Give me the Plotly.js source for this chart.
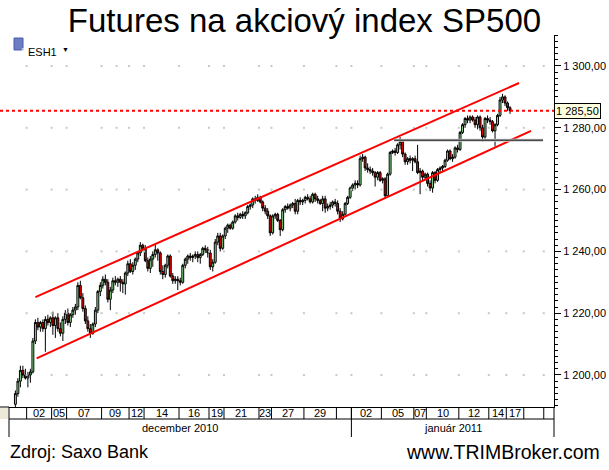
<!DOCTYPE html>
<html><head><meta charset="utf-8">
<script src="https://cdn.plot.ly/plotly-3.0.1.min.js"></script>
<style>html,body{margin:0;padding:0;background:#fff}#chart{width:609px;height:470px}</style>
</head><body><div id="chart"></div>
<script>
// ---- data: 4-hour bars of ESH1, 1 Dec 2010 - 17 Jan 2011 ----
const open = [1190.5,1194,1198,1201.5,1200,1199,1200,1201,1211,1217,1215.5,1217,1215,1218,1217,1218.5,1216,1218.5,1215,1213.5,1218,1220,1217,1219.5,1221,1222,1229,1225,1221.5,1217.5,1215,1213.5,1216.5,1221,1227,1229,1231,1230,1224.5,1227.5,1230.5,1230,1231,1230,1229.5,1233,1236,1233.5,1235.5,1237.5,1239.5,1242,1241,1237,1234.5,1237.5,1239,1240.5,1239.5,1233.5,1232.5,1235.5,1238.5,1232,1230.5,1231,1230.5,1230,1235.5,1237.5,1238.5,1238,1238.5,1239,1238,1239,1241,1240.5,1239.5,1235,1236.5,1243,1245,1241,1245,1247.5,1248.5,1247.5,1249.5,1251.5,1251,1252,1251.5,1252.5,1254.5,1255,1257,1256.5,1257.5,1256,1254,1253,1251.5,1246,1251.5,1252,1250,1247,1253.5,1254.5,1254,1255,1255.5,1253,1256.5,1256,1256.5,1257.5,1257,1256,1258.5,1257,1256.5,1255.5,1257,1254,1254.5,1255,1256,1255.5,1253,1250.5,1252,1255.5,1257.5,1260.5,1261.5,1262,1261.5,1270,1270.5,1267,1266.5,1266,1265.5,1264,1265.5,1263,1263.5,1258,1265,1272,1272.5,1272,1274.5,1275.5,1271.5,1269,1270,1269.5,1270,1269,1265.5,1266,1264,1265,1262,1260.5,1265.5,1263,1266.5,1267,1267.5,1269.5,1272.5,1270,1270.5,1273.5,1273,1278.5,1281,1283,1282.5,1283.5,1282.5,1281,1283.5,1280,1277,1283,1282.5,1282,1279,1281,1284,1289,1290,1288,1286.5];
const high = [1195,1199,1203,1203,1202,1201,1202,1212,1218,1218.5,1217.5,1218,1219,1219.5,1219,1220.5,1219,1220,1217,1219,1221,1221.5,1220,1222,1223,1230,1230.5,1226.5,1222.5,1219,1216.5,1217,1222,1227.5,1230,1232,1232.5,1231,1228.5,1231.5,1232,1231.5,1232,1231,1233.5,1237,1237.5,1236.5,1238,1240,1243,1242.5,1242,1238,1238.5,1240,1242.5,1241,1240,1235.5,1236,1239,1239,1233,1232,1232,1231.5,1236,1238,1239,1239.5,1239,1240,1240,1239.5,1241.5,1242,1241.5,1240.5,1237.5,1244,1246,1246,1245.5,1248,1249,1249,1250,1252,1252.5,1252.5,1253,1253,1255,1255.5,1257.5,1258,1258.5,1258,1256.5,1255,1254,1252,1252,1252.5,1252.5,1250.5,1254,1255,1255.5,1255.5,1256,1257,1257,1257.5,1257,1258,1258.5,1258,1259,1259,1258,1257,1258,1258,1255.5,1256,1256.5,1257,1256.5,1254,1253,1256,1258,1261,1262,1263,1263,1271,1271.5,1271,1268.5,1267.5,1267,1266,1266,1266,1264,1264,1265.5,1272.5,1273,1273.5,1275,1277,1276,1272,1270.5,1271,1270.5,1271,1274.5,1267,1266.5,1265.5,1265.5,1263,1266,1266,1267,1267.5,1268,1270,1273,1273,1271.5,1274,1274.5,1279,1281.5,1283.5,1284,1284,1284,1283.5,1284,1284,1281,1283.5,1284,1283.5,1282.5,1281.5,1284.5,1290,1291,1290.5,1288.5,1287];
const low = [1189,1193,1196,1199,1198.5,1196,1197.5,1200.5,1210,1214.5,1214,1214,1207.5,1216,1215.5,1213,1212,1214,1212.5,1211,1216.5,1216,1215.5,1218.5,1219.5,1221,1224.5,1220.5,1216.5,1214,1212,1213,1215.5,1220,1225.5,1228,1229,1223.5,1221,1226.5,1229,1228.5,1227,1226.5,1226,1232,1233,1232.5,1234,1236.5,1238.5,1240,1236.5,1233.5,1233,1235,1238,1237,1232.5,1231,1231.5,1234.5,1231.5,1229.5,1229.5,1227.5,1229,1229.5,1234.5,1236,1237,1236.5,1237.5,1236.5,1236,1238.5,1239.5,1238,1234,1233.5,1236,1242,1240,1240.5,1244,1246,1247,1247,1249,1250,1250.5,1250.5,1250.5,1252,1253.5,1254,1255.5,1256,1255.5,1253,1252,1250.5,1245,1245.5,1250.5,1249.5,1245,1246.5,1252.5,1253.5,1253,1254,1252,1252,1255,1255,1255.5,1256.5,1255.5,1255.5,1256,1255.5,1255,1253,1252.5,1253,1253.5,1254,1254.5,1252,1249.5,1250,1251.5,1255,1257,1259.5,1260,1260.5,1261,1269,1266,1265.5,1265,1264.5,1261,1263,1262.5,1262,1257,1257.5,1264.5,1271.5,1271,1271.5,1273,1270.5,1268,1268,1268.5,1266,1268.5,1265,1258.5,1263,1263,1261,1259.5,1259,1262,1262.5,1265.5,1266,1267,1269,1269.5,1269,1270,1272,1272.5,1278,1280,1281.5,1281.5,1282,1280,1279.5,1279,1275.5,1276.5,1281.5,1281,1278.5,1274,1280.5,1283.5,1288,1287,1285.5,1284.5];
const close = [1194,1198,1201.5,1200,1199,1200,1201,1211,1217,1215.5,1217,1215,1218,1217,1218.5,1216,1218.5,1215,1213.5,1218,1220,1217,1219.5,1221,1222,1229,1225,1221.5,1217.5,1215,1213.5,1216.5,1221,1227,1229,1231,1230,1224.5,1227.5,1230.5,1230,1231,1230,1229.5,1233,1236,1233.5,1235.5,1237.5,1239.5,1242,1241,1237,1234.5,1237.5,1239,1240.5,1239.5,1233.5,1232.5,1235.5,1238.5,1232,1230.5,1231,1230.5,1230,1235.5,1237.5,1238.5,1238,1238.5,1239,1238,1239,1241,1240.5,1239.5,1235,1236.5,1243,1245,1241,1245,1247.5,1248.5,1247.5,1249.5,1251.5,1251,1252,1251.5,1252.5,1254.5,1255,1257,1256.5,1257.5,1256,1254,1253,1251.5,1246,1251.5,1252,1250,1247,1253.5,1254.5,1254,1255,1255.5,1253,1256.5,1256,1256.5,1257.5,1257,1256,1258.5,1257,1256.5,1255.5,1257,1254,1254.5,1255,1256,1255.5,1253,1250.5,1252,1255.5,1257.5,1260.5,1261.5,1262,1261.5,1270,1270.5,1267,1266.5,1266,1265.5,1264,1265.5,1263,1263.5,1258,1265,1272,1272.5,1272,1274.5,1275.5,1271.5,1269,1270,1269.5,1270,1269,1265.5,1266,1264,1265,1262,1260.5,1265.5,1263,1266.5,1267,1267.5,1269.5,1272.5,1270,1270.5,1273.5,1273,1278.5,1281,1283,1282.5,1283.5,1282.5,1281,1283.5,1280,1277,1283,1282.5,1282,1279,1281,1284,1289,1290,1288,1286.5,1285.5];

// session (day) label cells on the time axis, in bar-index units
const dayLabels = ['', '02','05','07','09','12','14','16','19','21','23','27','29','', '02','05','07','10','12','14','17','',''];
const dayBounds = [-2.56, 4.5, 14.5, 20.5, 34.5, 45.5, 51.5, 65.5, 77.5, 83.5, 97.5, 102.5, 115.5, 128.5, 134.5, 146.5, 159.5, 164.5, 177.5, 189.5, 196.5, 203.5, 211.5, 215.6];
const monthLabels = ['december 2010', 'január 2011'];
const monthBounds = [-2.56, 134.5, 215.6];
const gridX = [4.5, 14.5, 20.5, 34.5, 40.5, 45.5, 51.5, 65.5, 77.5, 83.5, 97.5, 102.5, 115.5, 128.5, 134.5, 146.5, 159.5, 164.5, 177.5, 189.5, 196.5, 203.5, 211.5];
const yTicks = [1200, 1220, 1240, 1260, 1280, 1300];

// drawn trend lines (bar index, price)
const upperChannel = {x: [8, 201.6], y: [1225.2, 1294.5]};
const lowerChannel = {x: [8.5, 206.4], y: [1205.4, 1279.0]};
const resistance = {x: [151.6, 211.2], y: [1276, 1276]};

const lastPrice = close[close.length - 1];
const idx = close.map((_, i) => i);

function fmt(v) {
  const [i, d] = v.toFixed(2).split('.');
  return i.replace(/\B(?=(\d{3})+(?!\d))/g, ' ') + ',' + d;
}

// ---- layout geometry ----
const W = 609, H = 470;
const M = {l: 9, r: 55, t: 35, b: 63};
const PW = W - M.l - M.r, PH = H - M.t - M.b;
const row1 = -12 / PH, row2 = -30 / PH;
const FONT = 'Arial, "Liberation Sans", sans-serif';

const gx = [], gy = [];
gridX.forEach(x => yTicks.forEach(y => { gx.push(x); gy.push(y); }));

const traces = [
  {type: 'scatter', mode: 'markers', x: gx, y: gy, hoverinfo: 'skip',
   marker: {symbol: 'square', size: 2, color: '#c8c8c8'}},
  {type: 'candlestick', x: idx, open: open, high: high, low: low, close: close,
   increasing: {line: {color: '#000', width: 1}, fillcolor: '#90ee90'},
   decreasing: {line: {color: '#000', width: 1}, fillcolor: '#ff0000'},
   whiskerwidth: 0, hoverinfo: 'skip'},
  {type: 'scatter', mode: 'lines', x: upperChannel.x, y: upperChannel.y, line: {color: '#ff0000', width: 2}},
  {type: 'scatter', mode: 'lines', x: lowerChannel.x, y: lowerChannel.y, line: {color: '#ff0000', width: 2}},
  {type: 'scatter', mode: 'lines', x: resistance.x, y: resistance.y, line: {color: '#cfcfcf', width: 3}},
  {type: 'scatter', mode: 'lines', x: resistance.x, y: resistance.y, line: {color: '#000', width: 1}}
];

const centers = [];
for (let i = 0; i < dayLabels.length; i++) centers.push((dayBounds[i] + dayBounds[i + 1]) / 2);

const shapes = [];
shapes.push({type: 'line', xref: 'paper', yref: 'y', x0: -M.l / PW, x1: 1, y0: lastPrice, y1: lastPrice,
  line: {color: '#ff0000', width: 2, dash: 'dot'}});
dayBounds.slice(1, -1).forEach(b => shapes.push({type: 'line', xref: 'x', yref: 'paper', x0: b, x1: b, y0: 0, y1: row1,
  line: {color: '#000', width: 1}}));
monthBounds.slice(1, -1).forEach(b => shapes.push({type: 'line', xref: 'x', yref: 'paper', x0: b, x1: b, y0: 0, y1: row2,
  line: {color: '#000', width: 1}}));
shapes.push({type: 'line', xref: 'paper', yref: 'paper', x0: 0, x1: 0, y0: 0, y1: row2, line: {color: '#000', width: 1}});
shapes.push({type: 'line', xref: 'paper', yref: 'paper', x0: 1, x1: 1, y0: 0, y1: row2, line: {color: '#000', width: 1}});
shapes.push({type: 'line', xref: 'paper', yref: 'paper', x0: 0, x1: 1, y0: row1, y1: row1, line: {color: '#000', width: 1}});
shapes.push({type: 'line', xref: 'paper', yref: 'paper', x0: -M.l / PW, x1: 0, y0: 0, y1: 0, line: {color: '#000', width: 1}});
shapes.push({type: 'rect', xref: 'paper', yref: 'paper', x0: -M.l / PW, x1: -1 / PW, y0: -1 / PH, y1: row1,
  fillcolor: '#ece9d8', line: {width: 0}});
// symbol icon
shapes.push({type: 'rect', xref: 'paper', yref: 'paper', x0: (14 - M.l) / PW, x1: (23 - M.l) / PW,
  y0: (H - M.b - 50) / PH, y1: (H - M.b - 38) / PH, fillcolor: '#6e7dc2', line: {color: '#4a5aa8', width: 1}});

const annotations = [
  {xref: 'paper', yref: 'paper', x: (18.5 - M.l) / PW, y: (H - M.b - 44) / PH, text: 'S', showarrow: false,
   font: {family: FONT, size: 9, color: '#fff'}},
  {xref: 'paper', yref: 'paper', x: (26 - M.l) / PW, y: (H - M.b - 44) / PH, xanchor: 'left', text: 'ESH1',
   showarrow: false, font: {family: FONT, size: 11, color: '#000'}},
  {xref: 'paper', yref: 'paper', x: (60 - M.l) / PW, y: (H - M.b - 44) / PH, text: '▼', showarrow: false,
   font: {family: FONT, size: 7, color: '#000'}},
  {xref: 'paper', yref: 'y', x: 1, y: lastPrice, xanchor: 'left', yanchor: 'middle', text: fmt(lastPrice),
   showarrow: false, bgcolor: '#ffffe1', bordercolor: '#000', borderwidth: 1, borderpad: 1,
   font: {family: FONT, size: 11, color: '#000'}},
  {xref: 'paper', yref: 'paper', x: (8 - M.l) / PW, y: (H - M.b - 452) / PH, xanchor: 'left', yanchor: 'middle',
   text: 'Zdroj: Saxo Bank', showarrow: false, font: {family: FONT, size: 18, color: '#000'}},
  {xref: 'paper', yref: 'paper', x: (602 - M.l) / PW, y: (H - M.b - 452) / PH, xanchor: 'right', yanchor: 'middle',
   text: 'www.TRIMBroker.com', showarrow: false, font: {family: FONT, size: 19.5, color: '#000'}}
];
monthLabels.forEach((m, i) => annotations.push({xref: 'x', yref: 'paper',
  x: (monthBounds[i] + monthBounds[i + 1]) / 2, y: (row1 + row2) / 2, yanchor: 'middle', text: m, showarrow: false,
  font: {family: FONT, size: 11, color: '#000'}}));
dayLabels.forEach((d, i) => { if (d) annotations.push({xref: 'x', yref: 'paper', x: centers[i], y: row1 / 2,
  yanchor: 'middle', text: d, showarrow: false, font: {family: FONT, size: 11, color: '#000'}}); });

const layout = {
  width: W, height: H, margin: M, paper_bgcolor: '#fff', plot_bgcolor: '#fff', showlegend: false,
  hovermode: false, boxgap: 0.25, boxgroupgap: 0,
  title: {text: 'Futures na akciový index SP500', xref: 'container', x: 0.5, xanchor: 'center',
          yref: 'container', y: 1 - 20 / H, yanchor: 'middle', font: {family: FONT, size: 33, color: '#000'}},
  xaxis: {range: [dayBounds[0], dayBounds[dayBounds.length - 1]], showgrid: false, zeroline: false,
          showline: true, linecolor: '#000', linewidth: 1, showticklabels: false, ticks: '',
          rangeslider: {visible: false}, fixedrange: true},
  yaxis: {side: 'right', range: [1189.64, 1310.03], tickmode: 'array', tickvals: yTicks, ticktext: yTicks.map(fmt),
          ticks: 'outside', ticklen: 6, tickcolor: '#000', showline: true, linecolor: '#000', linewidth: 1,
          showgrid: false, zeroline: false, tickfont: {family: FONT, size: 11, color: '#000'},
          minor: {dtick: 2, tick0: 0, ticks: 'outside', ticklen: 3, tickcolor: '#000', showgrid: false},
          fixedrange: true},
  shapes: shapes, annotations: annotations
};

Plotly.newPlot('chart', traces, layout, {staticPlot: true, displayModeBar: false});
</script>
</body></html>
